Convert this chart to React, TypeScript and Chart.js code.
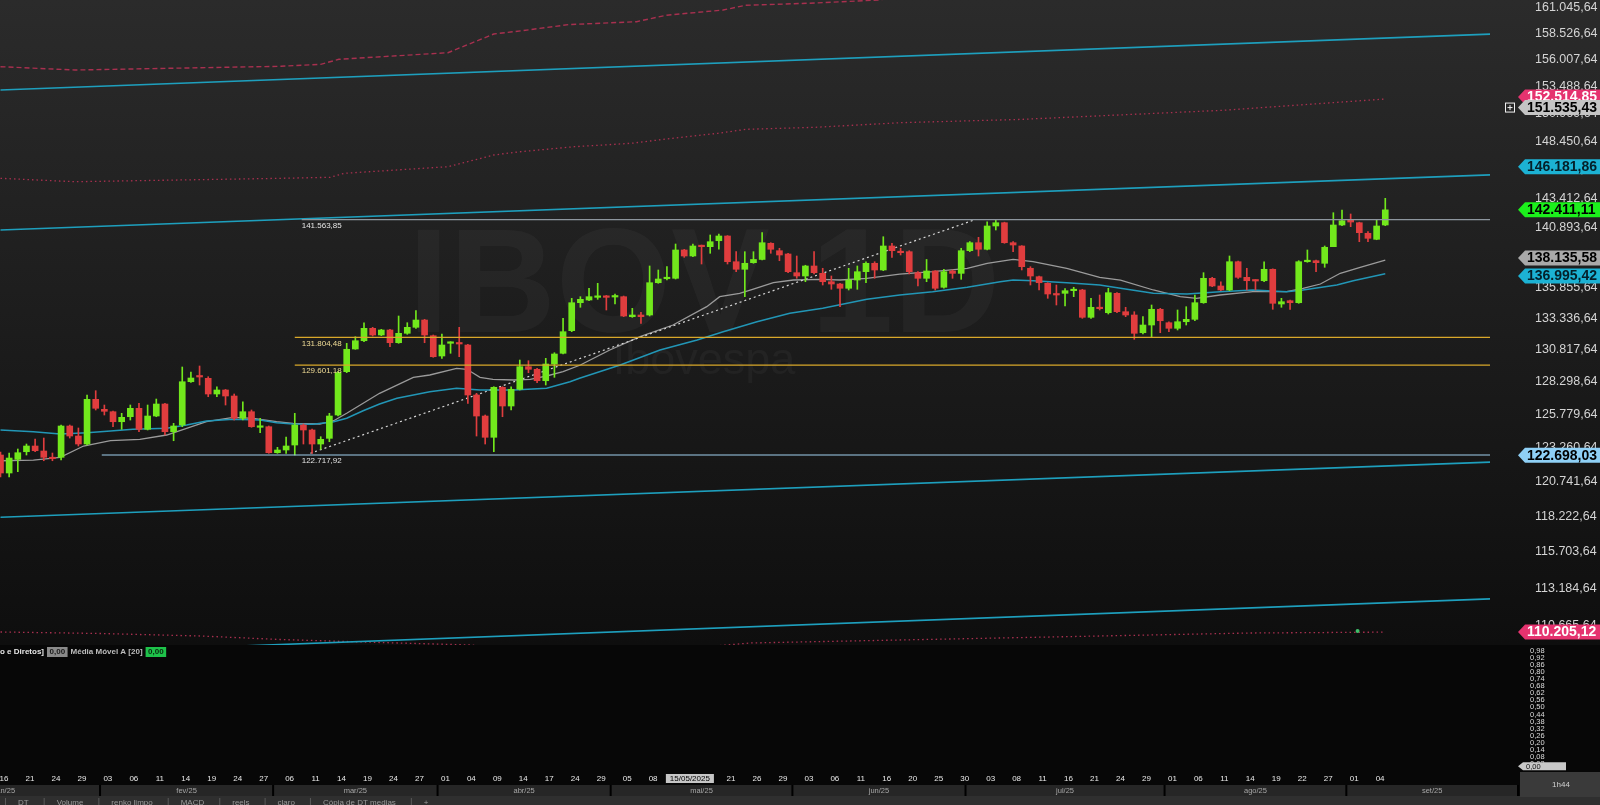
import { useEffect, useRef } from "react";
import { Chart, registerables } from "chart.js";

Chart.register(...registerables);

// ---------------- data ----------------
const OPEN = [
  122716, 121383, 122394, 122962, 123389, 123015, 122544, 122544, 124896, 124139,
  123538, 126935, 126169, 125985, 125221, 125603, 126246, 124646, 125656, 126575,
  124465, 124972, 128300, 128746, 128566, 127347, 127657, 127192, 125483, 125985,
  124798, 124843, 122888, 123090, 123463, 124972, 124594, 123538, 123965, 125733,
  129083, 130874, 131533, 132529, 131991, 132393, 131375, 132127, 132609, 133196,
  131935, 130319, 131327, 131327, 131192, 127269, 125656, 124042, 127866, 126422,
  127711, 129475, 129271, 128378, 129687, 130533, 132336, 134604, 134824, 135043,
  135151, 135070, 135097, 133468, 133603, 133603, 136249, 136579, 136613, 138983,
  138477, 139379, 139261, 139767, 140168, 137997, 137363, 137914, 138185, 139548,
  138923, 138645, 137080, 136805, 137639, 137025, 136331, 136141, 135788, 136471,
  137163, 137864, 137305, 139320, 138839, 138839, 137080, 136613, 137222, 135870,
  137222, 137025, 138923, 139598, 139042, 141022, 141303, 139598, 139320, 137447,
  136747, 136199, 135318, 135373, 135590, 135647, 133416, 134230, 133790, 135373,
  133872, 133603, 132175, 132794, 134067, 132979, 132529, 133060, 133253, 134604,
  136613, 135977, 135647, 137997, 136696, 136471, 136413, 137363, 134498, 134767,
  134604, 137997, 138081, 137864, 139261, 141107, 141534, 141303, 140398, 139885,
  141107,
];
const HIGH = [
  122940, 122865, 123164, 123538, 123913, 123988, 122865, 124972, 124972, 124745,
  127269, 127602, 126498, 126039, 125863, 126498, 126628, 126498, 126958, 126628,
  125100, 129452, 129060, 129530, 128692, 127912, 127700, 127347, 126751, 126116,
  125483, 124896, 123291, 124064, 125863, 125047, 124670, 124086, 125863, 129083,
  131327, 131854, 132979, 132609, 132447, 132447, 133522, 132979, 133953, 133253,
  131991, 132071, 131454, 132609, 131250, 127399, 125733, 127912, 127912, 127912,
  130001, 129946, 129350, 130136, 130580, 133334, 134964, 135097, 135788, 136199,
  135200, 135318, 135151, 134148, 133820, 137639, 137305, 137583, 139489, 139040,
  139489, 139400, 140253, 140339, 140200, 138839, 138839, 138839, 140449, 139598,
  139126, 138704, 138477, 137700, 138839, 137447, 136805, 136200, 137447, 137639,
  137997, 137997, 140107, 139548, 139126, 138923, 137163, 138185, 137246, 137363,
  137305, 139126, 139683, 140056, 141389, 141563.85, 141350, 139683, 139350, 137580,
  136805, 136249, 136059, 135757, 135870, 135700, 134964, 135236, 135788, 135425,
  134230, 133872, 133468, 134417, 134148, 133060, 134010, 134279, 135236, 137080,
  136696, 136331, 138477, 138050, 137447, 136500, 137997, 137400, 134964, 134824,
  138081, 138983, 138139, 139320, 142165, 142399, 142053, 141350, 140535, 141534,
  143411,
];
const LOW = [
  121087, 121087, 121479, 122716, 122962, 122290, 122290, 122342, 123988, 123389,
  123463, 126116, 125733, 124843, 124646, 125350, 124465, 124594, 125603, 124215,
  123785, 124843, 128238, 128044, 127137, 127137, 126498, 125350, 125350, 124798,
  124389, 122843, 122843, 122843, 122716, 123538, 122843, 123142, 123710, 125656,
  129005, 130851, 131454, 131910, 131937, 131057, 131327, 132047, 132529, 131375,
  130215, 130136, 130533, 130263, 126628, 124139, 123538, 122962, 125603, 126116,
  127657, 129005, 128223, 128044, 128643, 130477, 132256, 134230, 134767, 134882,
  134010, 134498, 133468, 133413, 132931, 133522, 136199, 136471, 136554, 138365,
  138421, 137805, 138704, 139042, 137805, 137163, 135096, 137864, 138139, 138704,
  138081, 137080, 136613, 136331, 136972, 136059, 135705, 134279, 135647, 135705,
  136249, 136613, 137246, 138365, 138561, 136972, 135977, 136331, 135647, 135788,
  136613, 136530, 138839, 138477, 138983, 140680, 139548, 138839, 137305, 136059,
  135647, 134964, 134417, 134336, 135097, 133334, 133334, 134010, 133684, 133790,
  133468, 131645, 132071, 131854, 132175, 132256, 132393, 132794, 133140, 134555,
  135919, 135590, 135590, 136613, 135647, 135647, 136331, 134067, 134230, 134067,
  134555, 137950, 137163, 137530, 139261, 141050, 140962, 139683, 139683, 139850,
  141050,
];
const CLOSE = [
  121383, 122491, 122888, 123389, 123037, 122544, 122440, 124896, 124139, 123538,
  126935, 126246, 126016, 125221, 125557, 126246, 124646, 125656, 126575, 124465,
  124896, 128300, 128589, 128668, 127347, 127657, 127192, 125483, 125985, 124843,
  124896, 122888, 123090, 123389, 124972, 124594, 123538, 123890, 125656, 129005,
  130851, 131533, 132529, 131991, 132393, 131375, 132127, 132609, 133196, 131991,
  130263, 131192, 131375, 131272, 127269, 125656, 124042, 127866, 126422, 127711,
  129475, 129271, 128378, 129687, 130477, 132256, 134604, 134882, 135097, 135151,
  135043, 135151, 133522, 133603, 133468, 136249, 136554, 136696, 138983, 138477,
  139320, 139261, 139683, 140168, 137997, 137363, 137864, 138185, 139598, 139042,
  138561, 137163, 136805, 137639, 137080, 136331, 136141, 135788, 136471, 137163,
  137864, 137305, 139320, 138923, 138755, 137163, 136613, 137222, 135788, 137163,
  137025, 138923, 139598, 139042, 141022, 141303, 139598, 139404, 137580, 136805,
  136249, 135318, 135236, 135590, 135705, 133416, 134230, 134116, 135425, 133872,
  133603, 132127, 132794, 134067, 133140, 132529, 133060, 133253, 134604, 136613,
  135977, 135647, 137997, 136696, 136413, 136389, 137363, 134555, 134686, 134604,
  137997, 138081, 137914, 139210, 141107, 141474, 141363, 140449, 139971, 141022,
  142411.11,
];

// day labels, one every 3 trading sessions starting at session 0 (16 jan)
const DAY_LABELS = [
  "16", "21", "24", "29", "03", "06", "11", "14", "19", "24", "27", "06", "11", "14",
  "19", "24", "27", "01", "04", "09", "14", "17", "24", "29", "05", "08", "13", "16",
  "21", "26", "29", "03", "06", "11", "16", "20", "25", "30", "03", "08", "11", "16",
  "21", "24", "29", "01", "06", "11", "14", "19", "22", "27", "01", "04",
];
const MONTH_LABELS = ["jan/25", "fev/25", "mar/25", "abr/25", "mai/25", "jun/25", "jul/25", "ago/25", "set/25"];
const MONTH_FIRST_BAR = [-10, 12, 32, 51, 71, 92, 112, 135, 156];
const MONTH_LAST_BAR = [11, 31, 50, 70, 91, 111, 134, 155, 176];
const CROSSHAIR_DATE = "15/05/2025";
const CROSSHAIR_BAR = 80;
const CROSSHAIR_PRICE = 151535.43;

// moving averages (sampled along the drawn curves)
const MA_SHORT_BARS = [
  0, 3.8, 6.9, 9.6, 12.7, 16.1, 19.2, 21.5, 23.8, 26.9, 29.2, 31.9, 33.8, 36.9, 38.5, 40.0,
  43.8, 47.7, 49.6, 52.7, 53.9, 55.4, 56.9, 59.3, 61.2, 63.1, 65.0, 67.0, 70.4, 73.9, 77.7,
  81.6, 83.1, 85.4, 86.9, 89.3, 91.6, 94.7, 97, 100.1, 103.9, 107.7, 111.7, 114, 117, 119.3,
  123.2, 127.0, 129.4, 133.2, 136.3, 138.2, 140.9, 144.7, 148.6, 150.5, 152.5, 154.8, 157.1, 160,
];
const MA_SHORT = [
  122290, 122342, 122544, 123389, 123785, 123890, 124215, 124722, 125221, 125557, 125483,
  125221, 125100, 125047, 125297, 125863, 127401, 128644, 128824, 129350, 129271, 128644,
  128487, 128432, 128487, 128746, 129083, 129609, 130795, 131854, 132794, 134279, 135097,
  135376, 135705, 136249, 136471, 136529, 136471, 136611, 136967, 137163, 137447, 137864,
  138198, 137997, 137447, 136696, 136471, 135647, 135097, 134964, 135236, 135507, 135507,
  135788, 136141, 137030, 137530, 138135.58,
];
const MA_LONG_BARS = [
  0, 3.8, 6.9, 10, 12.7, 15.3, 19.2, 21.5, 23.8, 26.9, 30, 31.9, 33.8, 36.1, 38.5, 40.0,
  41.9, 43.8, 45.8, 49.6, 52.7, 55.4, 59.3, 63.1, 65.8, 66.9, 71.6, 76.2, 80.5, 83.5, 87.4,
  91.2, 95.0, 100.1, 103.9, 107.7, 111.7, 115.5, 117, 119.3, 123.2, 127.0, 129.4, 133.2,
  137.1, 140.9, 144.7, 148.6, 150.5, 154.4, 156.3, 160,
];
const MA_LONG = [
  124594, 124465, 124292, 124389, 124518, 124646, 124722, 124972, 125274, 125404, 125350,
  125146, 125047, 125025, 125221, 125483, 126062, 126575, 127013, 127525, 127788, 127657,
  127657, 127788, 128300, 128565, 129609, 130795, 131589, 132255, 133059, 133741, 134148,
  134882, 135236, 135507, 135870, 136331, 136471, 136413, 136249, 136059, 135788, 135376,
  135318, 135507, 135647, 135507, 135647, 136059, 136413, 136995.42,
];

// envelope bands (red)
const BAND_TOP_BARS = [0, 8.6, 32.4, 37.0, 39.1, 51.7, 57.0, 60.3, 65.6, 73.5, 76.9, 83.5, 86.1, 94.1, 101.4, 110];
const BAND_TOP = [155343, 155029, 155381, 155566, 156040, 156668, 158457, 158777, 159359, 159645, 160268, 160781, 161243, 161463, 161762, 162800];
const BAND_MID_BARS = [0, 8.6, 32.4, 38.1, 39.7, 51.7, 57.0, 59.7, 66.3, 72.9, 77.6, 82.9, 86.1, 94.1, 103.9, 117.8, 141.4, 160];
const BAND_MID = [145164, 144864, 145164, 145252, 145605, 146190, 147232, 147500, 147976, 148283, 148734, 149185, 149546, 149728, 150148, 150447, 151291, 152325];
const BAND_LOW_BARS = [0, 11.5, 23.1, 32.3, 43.8, 54.2, 64.6, 75, 86.6, 103.9, 127, 144.4, 160];
const BAND_LOW = [110214, 110114, 109946, 109713, 109514, 109347, 108900, 108900, 109481, 109680, 109946, 110146, 110205.12];
const BAND_MARK_BAR = 156.8;
const BAND_MARK = 110280;

// regression channel (4 parallel lines, anchored at two sessions)
const CHANNEL_BARS = [0, 175];
const CHANNEL_1 = [153160, 158530];
const CHANNEL_2 = [140680, 145552];
const CHANNEL_3 = [118163, 122253];
const CHANNEL_4 = [108680, 112515];

// horizontal levels
const LEVELS = [141563.85, 131804.48, 129601.18, 122717.92];
const LEVEL_FROM_BAR = [34.8, 34, 34, 11.7];
const LEVEL_LABEL_BAR = 34.8;
const LEVEL_END_BAR = 175;

// dotted trend line
const TREND_BARS = [35.8, 112.6];
const TREND = [122843, 141563.85];

// right axis
const Y_TICKS = [
  161045.64, 158526.64, 156007.64, 153488.64, 150969.64, 148450.64, 145931.64, 143412.64,
  140893.64, 138374.64, 135855.64, 133336.64, 130817.64, 128298.64, 125779.64, 123260.64,
  120741.64, 118222.64, 115703.64, 113184.64, 110665.64,
];
const Y_MIN = 109347;
const Y_MAX = 161761;
const X_MIN = -0.058;
const X_MAX = 172.1;
const SUB_TICKS = [0.98, 0.92, 0.86, 0.8, 0.74, 0.68, 0.62, 0.56, 0.5, 0.44, 0.38, 0.32, 0.26, 0.2, 0.14, 0.08, 0.02];

// price tags on the right axis
const TOP_BAND_TAG = 152514.85;
const CHANNEL_TAG = 146181.86;
const LAST_PRICE = 142411.11;
const MA_SHORT_TAG = 138135.58;
const MA_LONG_TAG = 136995.42;
const LEVEL_TAG = 122698.03;
const LOW_BAND_TAG = 110205.12;

const TAB_LABELS = ["DT", "Volume", "renko limpo", "MACD", "reels", "claro", "Cópia de DT medias", "+"];
const WATERMARK_TITLE = "IBOV 1D";
const WATERMARK_SUB = "Ibovespa";

// ---------------- helpers ----------------
const FONT = '"Liberation Sans", Arial, sans-serif';
const UP = "#72e81c";
const DOWN = "#e03d3e";

function fmtBR(v: number): string {
  const [i, d] = v.toFixed(2).split(".");
  return i.replace(/\B(?=(\d{3})+(?!\d))/g, ".") + "," + d;
}

const candleColor = (ctx: any) => {
  const i = ctx.dataIndex;
  return CLOSE[i] >= OPEN[i] ? UP : DOWN;
};

function lineDs(xs: number[], ys: number[], color: string, width: number, dash: number[], order: number) {
  return {
    type: "line" as const,
    data: xs.map((x, k) => ({ x, y: ys[k] })),
    borderColor: color,
    borderWidth: width,
    borderDash: dash,
    pointRadius: 0,
    pointHoverRadius: 0,
    tension: 0,
    fill: false,
    order,
  };
}

// keep the axis from reserving room for label overhang
const noPad = (s: any) => {
  s.paddingTop = 0;
  s.paddingBottom = 0;
  s.paddingLeft = 0;
  s.paddingRight = 0;
};

function drawTag(ctx: CanvasRenderingContext2D, y: number, text: string, bg: string, fg: string) {
  const tip = 1518;
  const h = 15;
  ctx.beginPath();
  ctx.moveTo(tip, y);
  ctx.lineTo(tip + 7, y - h / 2);
  ctx.lineTo(1600, y - h / 2);
  ctx.lineTo(1600, y + h / 2);
  ctx.lineTo(tip + 7, y + h / 2);
  ctx.closePath();
  ctx.fillStyle = bg;
  ctx.fill();
  ctx.fillStyle = fg;
  ctx.font = `bold 14px ${FONT}`;
  ctx.textAlign = "left";
  ctx.textBaseline = "middle";
  ctx.fillText(text, tip + 9, y + 0.5);
}

const mainPlugin = {
  id: "mainDeco",
  beforeDraw(chart: any) {
    const { ctx, width, height } = chart;
    const g = ctx.createLinearGradient(0, 0, 0, height);
    g.addColorStop(0, "#2b2b2b");
    g.addColorStop(1, "#0e0e0e");
    ctx.save();
    ctx.fillStyle = g;
    ctx.fillRect(0, 0, width, height);
    ctx.restore();
  },
  beforeDatasetsDraw(chart: any) {
    const { ctx, chartArea } = chart;
    const cx = chartArea.left + (chartArea.right - chartArea.left) * 0.4725;
    ctx.save();
    ctx.fillStyle = "rgba(255,255,255,0.035)";
    ctx.textAlign = "center";
    ctx.textBaseline = "alphabetic";
    ctx.font = `bold 148px ${FONT}`;
    ctx.fillText(WATERMARK_TITLE, cx, 332);
    ctx.font = `45px ${FONT}`;
    ctx.fillText(WATERMARK_SUB, cx, 374);
    ctx.restore();
  },
  afterDatasetsDraw(chart: any) {
    const { ctx } = chart;
    const xs = chart.scales.x;
    const ys = chart.scales.y;
    const colors = ["#e4e4e4", "#f0dc96", "#f0dc96", "#e4e4e4"];
    ctx.save();
    ctx.font = `8px ${FONT}`;
    ctx.textAlign = "left";
    ctx.textBaseline = "middle";
    LEVELS.forEach((v, k) => {
      ctx.fillStyle = colors[k];
      ctx.fillText(fmtBR(v), xs.getPixelForValue(LEVEL_LABEL_BAR), ys.getPixelForValue(v) + 6);
    });
    ctx.restore();
  },
  afterDraw(chart: any) {
    const { ctx } = chart;
    const ys = chart.scales.y;
    ctx.save();
    const tags = [
      { v: CHANNEL_TAG, bg: "#1cb2d4", fg: "#04202a" },
      { v: LAST_PRICE, bg: "#1cf01c", fg: "#000" },
      { v: MA_SHORT_TAG, bg: "#a9a9a9", fg: "#000" },
      { v: MA_LONG_TAG, bg: "#1cb2d4", fg: "#04202a" },
      { v: LEVEL_TAG, bg: "#8fd0f6", fg: "#000" },
      { v: LOW_BAND_TAG, bg: "#e5336f", fg: "#fff" },
    ].map((t) => ({ ...t, y: ys.getPixelForValue(t.v) }));
    for (let it = 0; it < 4; it++) {
      for (let k = 1; k < tags.length; k++) {
        const gap = tags[k].y - tags[k - 1].y;
        if (gap < 18) {
          const d = (18 - gap) / 2;
          tags[k - 1].y -= d;
          tags[k].y += d;
        }
      }
    }
    drawTag(ctx, ys.getPixelForValue(TOP_BAND_TAG), fmtBR(TOP_BAND_TAG), "#e5336f", "#fff");
    const cy = ys.getPixelForValue(CROSSHAIR_PRICE);
    drawTag(ctx, cy, fmtBR(CROSSHAIR_PRICE), "#c4c4c4", "#000");
    ctx.strokeStyle = "#f0f0f0";
    ctx.lineWidth = 1;
    ctx.strokeRect(1505.5, cy - 4.5, 9, 9);
    ctx.beginPath();
    ctx.moveTo(1510, cy - 2.5);
    ctx.lineTo(1510, cy + 2.5);
    ctx.moveTo(1507.5, cy);
    ctx.lineTo(1512.5, cy);
    ctx.stroke();
    tags.forEach((t) => drawTag(ctx, t.y, fmtBR(t.v), t.bg, t.fg));
    ctx.restore();
  },
};

const subPlugin = {
  id: "subDeco",
  beforeDraw(chart: any) {
    const { ctx, width, height } = chart;
    ctx.save();
    ctx.fillStyle = "#070707";
    ctx.fillRect(0, 0, width, height);
    ctx.restore();
  },
  afterDraw(chart: any) {
    const { ctx, chartArea } = chart;
    const xs = chart.scales.x;
    const ys = chart.scales.y;
    ctx.save();
    ctx.textBaseline = "middle";
    ctx.textAlign = "left";
    ctx.font = `bold 8px ${FONT}`;
    let x = 0;
    const ly = 7;
    const part = (t: string, c: string) => {
      ctx.fillStyle = c;
      ctx.fillText(t, x, ly);
      x += ctx.measureText(t).width + 3;
    };
    const box = (t: string, bg: string, fg: string) => {
      const w = ctx.measureText(t).width + 5;
      ctx.fillStyle = bg;
      ctx.fillRect(x, ly - 5, w, 10);
      ctx.fillStyle = fg;
      ctx.fillText(t, x + 2.5, ly);
      x += w + 3;
    };
    part("o e Diretos]", "#e6e6e6");
    box("0,00", "#8a8a8a", "#1a1a1a");
    part("Média Móvel A [20]", "#bdbdbd");
    box("0,00", "#1ec24a", "#0a2a10");

    const zy = ys.getPixelForValue(0);
    ctx.beginPath();
    ctx.moveTo(1518, zy);
    ctx.lineTo(1523, zy - 4);
    ctx.lineTo(1566, zy - 4);
    ctx.lineTo(1566, zy + 4);
    ctx.lineTo(1523, zy + 4);
    ctx.closePath();
    ctx.fillStyle = "#c8c8c8";
    ctx.fill();
    ctx.fillStyle = "#111";
    ctx.font = `7.5px ${FONT}`;
    ctx.fillText("0,00", 1526, zy + 0.5);

    const bx = xs.getPixelForValue(CROSSHAIR_BAR) - 3;
    ctx.font = `8px ${FONT}`;
    const dw = ctx.measureText(CROSSHAIR_DATE).width + 8;
    ctx.fillStyle = "#c6c6c6";
    ctx.fillRect(bx - dw / 2, chartArea.bottom + 3, dw, 9);
    ctx.fillStyle = "#000";
    ctx.textAlign = "center";
    ctx.fillText(CROSSHAIR_DATE, bx, chartArea.bottom + 7.8);

    const rowTop = chartArea.bottom + 14;
    const rowH = 11;
    ctx.fillStyle = "#262626";
    ctx.fillRect(0, rowTop, 1518, rowH);
    ctx.font = `7.5px ${FONT}`;
    ctx.textAlign = "center";
    MONTH_LABELS.forEach((m, k) => {
      const xl = xs.getPixelForValue(MONTH_FIRST_BAR[k] - 0.5);
      const xr = Math.min(xs.getPixelForValue(MONTH_LAST_BAR[k] + 0.5), 1518);
      ctx.fillStyle = "#a6a6a6";
      ctx.fillText(m, (xl + xr) / 2, rowTop + rowH / 2 + 0.5);
      ctx.fillStyle = "#000";
      if (xl > 0) ctx.fillRect(xl - 1, rowTop, 2, rowH);
    });
    ctx.fillStyle = "#000";
    ctx.fillRect(1517, rowTop, 2, rowH);

    const tabTop = rowTop + rowH;
    ctx.fillStyle = "#2f2f2f";
    ctx.fillRect(0, tabTop, 1600, chart.height - tabTop);
    ctx.font = `8px ${FONT}`;
    ctx.textAlign = "left";
    let tx = 5;
    const tyy = tabTop + 6.5;
    TAB_LABELS.forEach((t) => {
      ctx.fillStyle = "#5a5a5a";
      ctx.fillRect(tx, tabTop + 2, 1, 8);
      tx += 13;
      ctx.fillStyle = "#9a9a9a";
      ctx.fillText(t, tx, tyy);
      tx += ctx.measureText(t).width + 15;
    });

    ctx.fillStyle = "#3a3a3a";
    ctx.fillRect(1520, chartArea.bottom + 1, 80, 25);
    ctx.fillStyle = "#d0d0d0";
    ctx.textAlign = "center";
    ctx.fillText("1h44", 1561, chartArea.bottom + 14);
    ctx.restore();
  },
};

function mainConfig(): any {
  const bars = OPEN.map((_, i) => i);
  return {
    type: "bar",
    data: {
      datasets: [
        lineDs(CHANNEL_BARS, CHANNEL_1, "#1e9fbd", 1.6, [], 10),
        lineDs(CHANNEL_BARS, CHANNEL_2, "#1e9fbd", 1.6, [], 10),
        lineDs(CHANNEL_BARS, CHANNEL_3, "#1e9fbd", 1.6, [], 10),
        lineDs(CHANNEL_BARS, CHANNEL_4, "#1e9fbd", 1.6, [], 10),
        lineDs(BAND_TOP_BARS, BAND_TOP, "#a8304f", 1.4, [5, 3], 10),
        lineDs(BAND_MID_BARS, BAND_MID, "#a8304f", 1.3, [1.5, 3], 10),
        lineDs(BAND_LOW_BARS, BAND_LOW, "#a8304f", 1.3, [1.5, 3], 10),
        {
          type: "line",
          data: [{ x: BAND_MARK_BAR, y: BAND_MARK }],
          showLine: false,
          pointRadius: 2,
          pointBackgroundColor: "#3fbf6a",
          pointBorderWidth: 0,
          order: 9,
        },
        lineDs(MA_LONG_BARS, MA_LONG, "#2296b6", 1.5, [], 8),
        lineDs(MA_SHORT_BARS, MA_SHORT, "#9b9b9b", 1.3, [], 8),
        lineDs(TREND_BARS, TREND, "#d6d6d6", 1.2, [2, 3], 7),
        {
          type: "bar",
          data: bars.map((i) => ({ x: i, y: [LOW[i], HIGH[i]] })),
          backgroundColor: candleColor,
          borderWidth: 0,
          barThickness: 1,
          grouped: false,
          order: 6,
        },
        {
          type: "bar",
          data: bars.map((i) => ({ x: i, y: [OPEN[i], CLOSE[i]] })),
          backgroundColor: candleColor,
          borderWidth: 0,
          barThickness: 6,
          minBarLength: 1.5,
          grouped: false,
          order: 5,
        },
        lineDs([LEVEL_FROM_BAR[0], LEVEL_END_BAR], [LEVELS[0], LEVELS[0]], "#8d969e", 1.3, [], 1),
        lineDs([LEVEL_FROM_BAR[1], LEVEL_END_BAR], [LEVELS[1], LEVELS[1]], "#d9a82a", 1.2, [], 1),
        lineDs([LEVEL_FROM_BAR[2], LEVEL_END_BAR], [LEVELS[2], LEVELS[2]], "#d9a82a", 1.2, [], 1),
        lineDs([LEVEL_FROM_BAR[3], LEVEL_END_BAR], [LEVELS[3], LEVELS[3]], "#9fd0ee", 1.2, [], 1),
      ],
    },
    options: {
      responsive: false,
      animation: false,
      devicePixelRatio: 1,
      events: [],
      layout: { padding: 0, autoPadding: false },
      plugins: { legend: { display: false }, tooltip: { enabled: false } },
      scales: {
        x: {
          type: "linear",
          min: X_MIN,
          max: X_MAX,
          offset: false,
          display: false,
          grid: { display: false, offset: false },
        },
        y: {
          type: "logarithmic",
          position: "right",
          min: Y_MIN,
          max: Y_MAX,
          bounds: "data",
          grid: { display: false, drawTicks: false },
          border: { display: false },
          afterFit: (s: any) => {
            s.width = 110;
            noPad(s);
          },
          afterBuildTicks: (s: any) => {
            s.ticks = Y_TICKS.map((v) => ({ value: v }));
          },
          ticks: {
            autoSkip: false,
            padding: 45,
            color: "#d4d4d4",
            font: { family: FONT, size: 12.5 },
            callback: (v: any) => fmtBR(Number(v)),
          },
        },
      },
    },
    plugins: [mainPlugin],
  };
}

function subConfig(): any {
  return {
    type: "line",
    data: { datasets: [{ data: [], borderWidth: 0, pointRadius: 0 }] },
    options: {
      responsive: false,
      animation: false,
      devicePixelRatio: 1,
      events: [],
      layout: { padding: 0, autoPadding: false },
      plugins: { legend: { display: false }, tooltip: { enabled: false } },
      scales: {
        x: {
          type: "linear",
          min: X_MIN,
          max: X_MAX,
          offset: false,
          bounds: "data",
          position: "bottom",
          grid: { display: false, drawTicks: false },
          border: { display: false },
          afterBuildTicks: (s: any) => {
            s.ticks = DAY_LABELS.map((_, k) => ({ value: k * 3 }));
          },
          afterFit: (s: any) => {
            s.height = 34;
            noPad(s);
          },
          ticks: {
            autoSkip: false,
            maxRotation: 0,
            minRotation: 0,
            padding: 3,
            labelOffset: 3.5,
            color: "#e8e8e8",
            font: { family: FONT, size: 8 },
            callback: (_v: any, i: number) => DAY_LABELS[i] ?? "",
          },
        },
        y: {
          type: "linear",
          position: "right",
          min: -0.04,
          max: 1.03,
          bounds: "data",
          grid: { display: false, drawTicks: false },
          border: { display: false },
          afterFit: (s: any) => {
            s.width = 110;
            noPad(s);
          },
          afterBuildTicks: (s: any) => {
            s.ticks = SUB_TICKS.map((v) => ({ value: v }));
          },
          ticks: {
            autoSkip: false,
            padding: 40,
            color: "#dcdcdc",
            font: { family: FONT, size: 7.5 },
            callback: (v: any) => Number(v).toFixed(2).replace(".", ","),
          },
        },
      },
    },
    plugins: [subPlugin],
  };
}

export default function App() {
  const mainRef = useRef<HTMLCanvasElement>(null);
  const subRef = useRef<HTMLCanvasElement>(null);
  useEffect(() => {
    const main = new Chart(mainRef.current as HTMLCanvasElement, mainConfig());
    const sub = new Chart(subRef.current as HTMLCanvasElement, subConfig());
    return () => {
      main.destroy();
      sub.destroy();
    };
  }, []);
  return (
    <div
      style={{
        position: "fixed",
        left: 0,
        top: 0,
        width: 1600,
        height: 805,
        background: "#000",
        overflow: "hidden",
      }}
    >
      <canvas
        ref={mainRef}
        width={1600}
        height={645}
        style={{ position: "absolute", left: 0, top: 0, width: 1600, height: 645 }}
      />
      <canvas
        ref={subRef}
        width={1600}
        height={160}
        style={{ position: "absolute", left: 0, top: 645, width: 1600, height: 160 }}
      />
    </div>
  );
}
